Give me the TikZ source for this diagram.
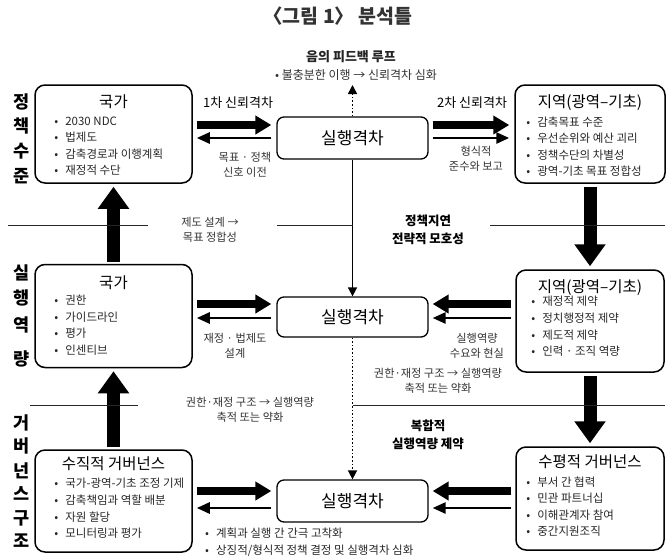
\documentclass[tikz,border=0pt]{standalone}
\usepackage{fontspec}
\setmainfont{Noto Sans CJK KR}
\usetikzlibrary{positioning,arrows.meta}

\tikzset{
  panel/.style={draw,line width=1.5pt,rounded corners=10pt,inner sep=0pt},
  gapbox/.style={draw,line width=1.3pt,rounded corners=7pt,minimum width=151pt,inner sep=0pt,font=\fontsize{17}{19}\selectfont},
  ptitle/.style={font=\fontsize{15.5}{17}\selectfont,inner sep=0pt},
  plist/.style={font=\fontsize{11.5}{16.6}\selectfont,align=left,inner sep=0pt,text=black!85},
  lbl/.style={font=\fontsize{11.2}{15.5}\selectfont,align=center,inner sep=0pt,text=black!80},
  hlbl/.style={font=\fontsize{13}{15}\selectfont,inner sep=0pt},
  blbl/.style={font=\bfseries\fontsize{12.5}{18}\selectfont,align=center,inner sep=0pt},
  side/.style={font=\bfseries\fontsize{17.5}{18}\selectfont,inner sep=0pt},
  fatarr/.style={line width=8pt,-{Triangle[length=16pt,width=18pt]}},
  thinarr/.style={line width=2.6pt,-{Triangle[length=13pt,width=11pt]}},
  bigarr/.style={line width=13pt,-{Triangle[length=22pt,width=30pt]}},
  vline/.style={line width=1.6pt,-{Triangle[length=9pt,width=9pt]}},
  dotline/.style={line width=1.6pt,dotted,-{Triangle[length=9pt,width=9pt]}},
  sepline/.style={line width=0.9pt,black!85},
}
\newcommand{\bul}{•\hspace{7pt}}

\begin{document}
\begin{tikzpicture}[x=1pt,y=-1pt]
\useasboundingbox (0,0) rectangle (670,558);

% title and feedback loop
\node[font=\bfseries\fontsize{19.5}{22}\selectfont,text=black!80] (title) at (338,16) {〈그림 1〉 분석틀};
\node[font=\bfseries\fontsize{13}{15}\selectfont,text=black!85] (loopT) at (351,57) {음의 피드백 루프};
\node[lbl,font=\fontsize{12}{15}\selectfont] (loopB) at (356,75) {• 불충분한 이행 → 신뢰격차 심화};
\coordinate (loopEnd) at (352.5,85);

% side headings
\foreach \ch/\yy in {정/102,책/126,수/151,준/176} \node[side] (sa\yy) at (22,\yy) {\ch};
\foreach \ch/\yy in {실/273,행/298,역/325,량/359} \node[side] (sb\yy) at (22,\yy) {\ch};
\foreach \ch/\yy in {거/423,버/446,넌/471,스/494,구/518,조/541} \node[side] (sc\yy) at (22,\yy) {\ch};

% panels
\node[panel,minimum width=157pt,minimum height=98pt] (natTop) at (113.5,134) {};
\node[panel,minimum width=150pt,minimum height=98pt] (regTop) at (590,134) {};
\node[panel,minimum width=157pt,minimum height=103pt] (natMid) at (113.5,316) {};
\node[panel,minimum width=148pt,minimum height=102pt] (regMid) at (590,321) {};
\node[panel,minimum width=157pt,minimum height=102pt] (govV) at (113.5,501) {};
\node[panel,minimum width=148pt,minimum height=103pt] (govH) at (590,498.5) {};

\node[ptitle,below=10pt of natTop.north] (natTopT) {국가};
\node[ptitle,below=10pt of regTop.north] (regTopT) {지역(광역–기초)};
\node[ptitle,below=12pt of natMid.north] (natMidT) {국가};
\node[ptitle,below=10pt of regMid.north] (regMidT) {지역(광역–기초)};
\node[ptitle,below=7pt of govV.north] (govVT) {수직적 거버넌스};
\node[ptitle,below=8pt of govH.north] (govHT) {수평적 거버넌스};

\node[plist,below right=32pt and 20pt of natTop.north west] (natTopL)
  {\bul 2030 NDC\\ \bul 법제도\\ \bul 감축경로과 이행계획\\ \bul 재정적 수단};
\node[plist,below right=32pt and 12pt of regTop.north west] (regTopL)
  {\bul 감축목표 수준\\ \bul 우선순위와 예산 괴리\\ \bul 정책수단의 차별성\\ \bul 광역-기초 목표 정합성};
\node[plist,below right=31pt and 20pt of natMid.north west] (natMidL)
  {\bul 권한\\ \bul 가이드라인\\ \bul 평가\\ \bul 인센티브};
\node[plist,below right=27pt and 16pt of regMid.north west] (regMidL)
  {\bul 재정적 제약\\ \bul 정치행정적 제약\\ \bul 제도적 제약\\ \bul 인력 · 조직 역량};
\node[plist,below right=29pt and 20pt of govV.north west] (govVL)
  {\bul 국가-광역-기초 조정 기제\\ \bul 감축책임과 역할 배분\\ \bul 자원 할당\\ \bul 모니터링과 평가};
\node[plist,below right=30pt and 11pt of govH.north west] (govHL)
  {\bul 부서 간 협력\\ \bul 민관 파트너십\\ \bul 이해관계자 참여\\ \bul 중간지원조직};

% gap boxes
\node[gapbox,minimum height=42pt] (gapTop) at (352.5,138) {실행격차};
\node[gapbox,minimum height=40pt] (gapMid) at (352.5,317) {실행격차};
\node[gapbox,minimum height=42pt] (gapBot) at (352.5,501) {실행격차};

% top row
\draw[fatarr] ([xshift=4pt,yshift=9pt]natTop.east) -- ([xshift=-5pt,yshift=13pt]gapTop.west);
\draw[thinarr] ([xshift=-5pt]gapTop.west) -- ([xshift=4pt,yshift=-4pt]natTop.east);
\draw[fatarr] ([xshift=4pt,yshift=13pt]gapTop.east) -- ([xshift=-5pt,yshift=9pt]regTop.west);
\draw[thinarr] ([xshift=4pt]gapTop.east) -- ([xshift=-5pt,yshift=-4pt]regTop.west);
\node[hlbl] (trust1) at (238,103) {1차 신뢰격차};
\node[lbl] (signal) at (245,165) {목표 · 정책\\신호 이전};
\node[hlbl] (trust2) at (472,103) {2차 신뢰격차};
\node[lbl] (report) at (476,159) {형식적\\준수와 보고};
\draw[dotline] (gapTop.north) -- (loopEnd);

% middle row
\draw[fatarr] ([xshift=4pt,yshift=12pt]natMid.east) -- ([xshift=-5pt,yshift=13pt]gapMid.west);
\draw[thinarr] ([xshift=-5pt,yshift=-1pt]gapMid.west) -- ([xshift=4pt,yshift=-2pt]natMid.east);
\draw[fatarr] ([xshift=-4pt,yshift=17pt]regMid.west) -- ([xshift=4pt,yshift=13pt]gapMid.east);
\draw[thinarr] ([xshift=-4pt,yshift=3pt]regMid.west) -- ([xshift=4pt,yshift=-1pt]gapMid.east);
\node[lbl] (design) at (235,346) {재정 · 법제도\\설계};
\node[lbl] (demand) at (477,346) {실행역량\\수요와 현실};

% bottom row
\draw[fatarr] ([xshift=4pt,yshift=10pt]govV.east) -- ([xshift=-5pt,yshift=10pt]gapBot.west);
\draw[thinarr] ([xshift=-5pt,yshift=-7pt]gapBot.west) -- ([xshift=4pt,yshift=-7pt]govV.east);
\draw[fatarr] ([xshift=-4pt,yshift=7.5pt]govH.west) -- ([xshift=4pt,yshift=10pt]gapBot.east);
\draw[thinarr] ([xshift=-4pt,yshift=-9.5pt]govH.west) -- ([xshift=4pt,yshift=-7pt]gapBot.east);
\node[plist,anchor=west] (effects) at (205,542)
  {\bul 계획과 실행 간 간극 고착화\\ \bul 상징적/형식적 정책 결정 및 실행격차 심화};

% vertical links
\draw[vline] (gapTop.south) -- (gapMid.north);
\draw[dotline] (gapMid.south) -- (gapBot.north);
\draw[bigarr] ([yshift=2pt]natMid.north) -- ([yshift=-3pt]natTop.south);
\draw[bigarr] ([yshift=2pt]govV.north) -- ([yshift=-3pt]natMid.south);
\draw[bigarr] ([yshift=-3pt]regTop.south) -- ([yshift=3pt]regMid.north);
\draw[bigarr] ([yshift=-3pt]regMid.south) -- ([yshift=3pt]govH.north);

% level separators
\draw[sepline] (8,225) -- (148,225);
\draw[sepline] (277,225) -- (352.5,225);
\draw[sepline] (490,225) -- (665,225);
\node[lbl] (align) at (210,230) {제도 설계 →\\목표 정합성};
\node[blbl] (delay) at (428,230) {정책지연\\전략적 모호성};

\draw[sepline] (30,405) -- (138,405);
\draw[sepline] (352.5,405) -- (665,405);
\node[lbl] (capL) at (250,410) {권한·재정 구조 → 실행역량\\축적 또는 약화};
\node[lbl] (capR) at (438,381) {권한·재정 구조 → 실행역량\\축적 또는 약화};
\node[blbl] (limit) at (428,435) {복합적\\실행역량 제약};
\end{tikzpicture}
\end{document}
